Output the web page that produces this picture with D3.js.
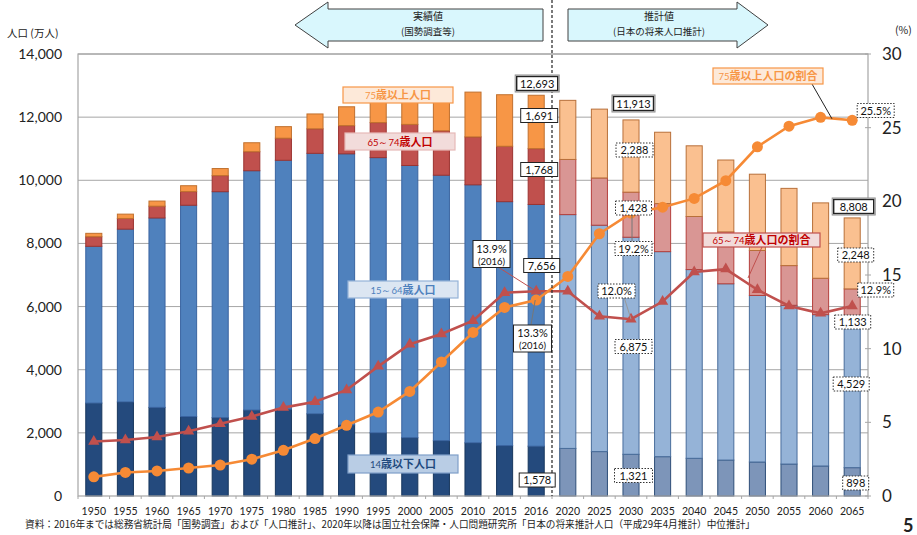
<!DOCTYPE html>
<html><head><meta charset="utf-8">
<script src="https://cdnjs.cloudflare.com/ajax/libs/d3/7.8.5/d3.min.js"></script>
<style>body{margin:0;background:#fff}svg{display:block}</style>
</head><body>
<svg id="c" width="917" height="535"></svg>
<script>
// ---- data ----
const years = ["1950","1955","1960","1965","1970","1975","1980","1985","1990","1995","2000","2005","2010","2015","2016","2020","2025","2030","2035","2040","2045","2050","2055","2060","2065"];
const totalPop  = [8320,8928,9342,9828,10372,11189,11699,12101,12328,12544,12670,12732,12793,12710,12693,12532,12254,11913,11522,11092,10642,10193,9744,9284,8808];
const age0_14   = [2943,2980,2807,2517,2482,2722,2751,2603,2249,2001,1847,1752,1684,1595,1578,1507,1407,1321,1246,1194,1138,1077,1012,951,898];
const age15_64  = [4966,5473,6000,6693,7157,7581,7883,8251,8590,8717,8622,8409,8173,7728,7656,7406,7170,6875,6494,5978,5584,5275,5028,4793,4529];
const age65_74  = [304,338,373,432,509,602,699,776,892,1109,1301,1407,1517,1755,1768,1747,1497,1428,1522,1681,1643,1424,1258,1153,1133];
const age75plus = [107,137,162,186,224,284,366,471,597,717,900,1164,1419,1632,1691,1872,2180,2288,2260,2239,2277,2417,2446,2387,2248];
const ratio65_74  = [3.7,3.8,4.0,4.4,4.9,5.4,6.0,6.4,7.2,8.8,10.3,11.0,11.9,13.8,13.9,13.9,12.2,12.0,13.2,15.2,15.4,14.0,12.9,12.4,12.9];
const ratio75plus = [1.3,1.6,1.7,1.9,2.1,2.5,3.1,3.9,4.8,5.7,7.1,9.1,11.1,12.8,13.3,14.9,17.8,19.2,19.6,20.2,21.4,23.7,25.1,25.7,25.5];
const leftTicks  = [0,2000,4000,6000,8000,10000,12000,14000];
const rightTicks = [0,5,10,15,20,25,30];
const lastActual = "2016";

// ---- layout ----
const svg = d3.select("#c");
const L = 78, R = 868, T = 54, B = 496;
const x = d3.scaleBand().domain(years).range([L, R]).paddingInner(0.46).paddingOuter(0.23);
const y = d3.scaleLinear().domain([0, 14000]).range([B, T]);
const y2 = d3.scaleLinear().domain([0, 30]).range([B, T]);
const bw = x.bandwidth();
const cx = yr => x(yr) + bw / 2;
const JP = "'Noto Sans CJK JP','Noto Sans',sans-serif";
const NUM = "Lato,'Noto Sans',sans-serif";

const actualIdx = years.indexOf(lastActual);
const colHist = ["#244A7D","#4F81BD","#C0504D","#F79646"];
const colProj = ["#7D95B9","#95B3D7","#D99694","#FAC090"];
const strokeHist = ["#17365D","#3A64A0","#9B3431","#C0702E"];
const strokeProj = ["#2E4E78","#4A6E9C","#B5403C","#B8703A"];

// gridlines
svg.append("g").selectAll("line").data(leftTicks.filter(d => d > 0)).join("line")
  .attr("x1", L).attr("x2", R).attr("y1", d => y(d)).attr("y2", d => y(d))
  .attr("stroke", "#A6A6A6").attr("stroke-width", 1);

// stacked bars
const rows = years.map((yr, i) => ({yr, i, vals: [age0_14[i], age15_64[i], age65_74[i], age75plus[i]]}));
const stackData = [];
rows.forEach(r => {
  let acc = 0;
  r.vals.forEach((v, k) => {
    stackData.push({yr: r.yr, k, y0: acc, y1: acc + v, proj: r.i > actualIdx});
    acc += v;
  });
});
svg.append("g").selectAll("rect").data(stackData).join("rect")
  .attr("x", d => x(d.yr) + 0.5).attr("width", bw - 1)
  .attr("y", d => y(d.y1)).attr("height", d => y(d.y0) - y(d.y1))
  .attr("fill", d => (d.proj ? colProj : colHist)[d.k])
  .attr("stroke", d => (d.proj ? strokeProj : strokeHist)[d.k])
  .attr("stroke-width", 1);

// plot frame
svg.append("rect").attr("x", L).attr("y", T).attr("width", R - L).attr("height", B - T)
  .attr("fill", "none").attr("stroke", "#A6A6A6").attr("stroke-width", 1.2);
const bounds = years.map(yr => x(yr) - x.step() * x.paddingInner() / 2).concat([R]);
svg.append("g").selectAll("line").data(bounds).join("line")
  .attr("x1", d => d).attr("x2", d => d).attr("y1", B).attr("y2", B + 3)
  .attr("stroke", "#A6A6A6");
svg.append("g").selectAll("line").data(rightTicks).join("line")
  .attr("x1", R - 3).attr("x2", R + 3).attr("y1", d => y2(d)).attr("y2", d => y2(d))
  .attr("stroke", "#A6A6A6");

// axes labels
svg.append("g").selectAll("text").data(leftTicks).join("text")
  .attr("x", 62).attr("y", d => y(d) + 5).attr("text-anchor", "end")
  .attr("font-family", NUM).attr("font-size", 14).attr("fill", "#222")
  .text(d => d3.format(",")(d));
svg.append("g").selectAll("text").data(rightTicks).join("text")
  .attr("x", 882).attr("y", d => y2(d) + 6).attr("text-anchor", "start")
  .attr("font-family", NUM).attr("font-size", 17).attr("fill", "#222")
  .text(d => d);
svg.append("g").selectAll("text").data(years).join("text")
  .attr("x", d => cx(d)).attr("y", 515).attr("text-anchor", "middle")
  .attr("font-family", NUM).attr("font-size", 10.5).attr("fill", "#222")
  .text(d => d);
svg.append("text").attr("x", 7).attr("y", 37).attr("font-family", JP).attr("font-size", 10.5)
  .attr("fill", "#222").text("人口 (万人)");
svg.append("text").attr("x", 895).attr("y", 34).attr("font-family", JP).attr("font-size", 10.5)
  .attr("fill", "#222").text("(%)");

// lines
const lineGen = (arr) => d3.line().x((d, i) => cx(years[i])).y(d => y2(d))(arr);
svg.append("path").attr("d", lineGen(ratio65_74)).attr("fill", "none")
  .attr("stroke", "#C0504D").attr("stroke-width", 2.6);
svg.append("g").selectAll("path").data(ratio65_74).join("path")
  .attr("d", d3.symbol(d3.symbolTriangle, 55))
  .attr("transform", (d, i) => `translate(${cx(years[i])},${y2(d)})`)
  .attr("fill", "#C0504D");
svg.append("path").attr("d", lineGen(ratio75plus)).attr("fill", "none")
  .attr("stroke", "#F68A35").attr("stroke-width", 2.6);
svg.append("g").selectAll("circle").data(ratio75plus).join("circle")
  .attr("cx", (d, i) => cx(years[i])).attr("cy", d => y2(d)).attr("r", 5.5)
  .attr("fill", "#F68A35");

// dashed divider between actual and projected
const divX = (x(lastActual) + bw + x(years[actualIdx + 1])) / 2;
svg.append("line").attr("x1", divX).attr("x2", divX).attr("y1", 0).attr("y2", B)
  .attr("stroke", "#333").attr("stroke-width", 1.3).attr("stroke-dasharray", "3,2");

// header arrows
svg.append("path").attr("d", "M295,25 L328,2 L328,9 L543,9 L543,41 L328,41 L328,48 Z")
  .attr("fill", "#D9F7FD").attr("stroke", "#404040").attr("stroke-width", 1);
svg.append("path").attr("d", "M568,9 L737,9 L737,2 L768,25 L737,48 L737,41 L568,41 Z")
  .attr("fill", "#D9F7FD").attr("stroke", "#404040").attr("stroke-width", 1);
[[428, "実績値", "(国勢調査等)"], [659, "推計値", "(日本の将来人口推計)"]].forEach(([tx, a, b]) => {
  svg.append("text").attr("x", tx).attr("y", 20).attr("text-anchor", "middle")
    .attr("font-family", JP).attr("font-size", 10).attr("fill", "#222").text(a);
  svg.append("text").attr("x", tx).attr("y", 35).attr("text-anchor", "middle")
    .attr("font-family", JP).attr("font-size", 9.5).attr("fill", "#222").text(b);
});

// connector lines
const conn = (x1, y1, x2, y2c, col) => svg.append("line").attr("x1", x1).attr("y1", y1)
  .attr("x2", x2).attr("y2", y2c).attr("stroke", col).attr("stroke-width", 1);
const i16 = actualIdx, i30 = years.indexOf("2030");
conn(498, 267, cx("2016"), y2(ratio65_74[i16]), "#C0504D");
conn(cx("2016") - 1, y2(ratio75plus[i16]), 531, 325, "#777");
conn(cx("2030") + 1, y2(ratio75plus[i30]), 632, 243, "#777");
conn(624, 297, cx("2030"), y2(ratio65_74[i30]), "#999");
conn(812, 84, 832, y2(25.6), "#222");
conn(762, 247, 748, 278, "#C0504D");

// value callouts
const fmt = d3.format(",");
const valueOf = (key, i) => ({total: fmt(totalPop[i]), a0: fmt(age0_14[i]), a15: fmt(age15_64[i]),
  a65: fmt(age65_74[i]), a75: fmt(age75plus[i]), r65: ratio65_74[i].toFixed(1) + "%", r75: ratio75plus[i].toFixed(1) + "%"})[key];
const callouts = [
  {yr:"2016", key:"total", dx:1, cy:83.5, w:41, st:"double"},
  {yr:"2016", key:"a75", dx:3, cy:115.5, w:37, st:"solid"},
  {yr:"2016", key:"a65", dx:3, cy:169.5, w:37, st:"solid"},
  {yr:"2016", key:"a15", dx:5.5, cy:265.5, w:36, st:"solid"},
  {yr:"2016", key:"a0", dx:1, cy:480, w:36, st:"solid"},
  {yr:"2030", key:"total", dx:2.5, cy:103.5, w:40, st:"double"},
  {yr:"2030", key:"a75", dx:3.5, cy:150, w:37, st:"dotted"},
  {yr:"2030", key:"a65", dx:2.5, cy:208, w:36, st:"dotted"},
  {yr:"2030", key:"r75", dx:2.5, cy:248.5, w:37, st:"dotted"},
  {yr:"2030", key:"r65", dx:-14.5, cy:291, w:37, st:"dotted"},
  {yr:"2030", key:"a15", dx:2.5, cy:346.5, w:37, st:"dotted"},
  {yr:"2030", key:"a0", dx:2.5, cy:475.5, w:38, st:"dotted"},
  {yr:"2065", key:"total", dx:1.5, cy:206.5, w:40, st:"double"},
  {yr:"2065", key:"a75", dx:3.5, cy:255, w:36, st:"dotted"},
  {yr:"2065", key:"r65", dx:23.5, cy:290, w:36, st:"dotted"},
  {yr:"2065", key:"a65", dx:0.5, cy:322, w:36, st:"dotted"},
  {yr:"2065", key:"a15", dx:-1, cy:384, w:36, st:"dotted"},
  {yr:"2065", key:"a0", dx:3.5, cy:483, w:26, st:"dotted"},
  {yr:"2065", key:"r75", dx:23.5, cy:110.5, w:37, st:"dotted"}
];
const cg = svg.append("g");
callouts.forEach(c => {
  const i = years.indexOf(c.yr);
  const mx = cx(c.yr) + c.dx, h = 14;
  if (c.st === "double") {
    cg.append("rect").attr("x", mx - c.w / 2 - 1.5).attr("y", c.cy - h / 2 - 1.5).attr("width", c.w + 3).attr("height", h + 3)
      .attr("fill", "#fff").attr("stroke", "#8C8C8C").attr("stroke-width", 1);
  }
  const r = cg.append("rect").attr("x", mx - c.w / 2).attr("y", c.cy - h / 2).attr("width", c.w).attr("height", h)
    .attr("fill", "#fff").attr("stroke", "#222").attr("stroke-width", c.st === "double" ? 1.4 : 1);
  if (c.st === "dotted") r.attr("stroke-dasharray", "1.5,1.5").attr("stroke", "#333");
  cg.append("text").attr("x", mx).attr("y", c.cy + 4).attr("text-anchor", "middle")
    .attr("font-family", NUM).attr("font-size", 11).attr("fill", "#111").text(valueOf(c.key, i));
});
[[491.5, 254, ratio65_74[i16], 37], [532.5, 338.5, ratio75plus[i16], 38]].forEach(([mx, my, v, w]) => {
  cg.append("rect").attr("x", mx - w / 2).attr("y", my - 13.5).attr("width", w).attr("height", 27)
    .attr("fill", "#fff").attr("stroke", "#222").attr("stroke-width", 1);
  cg.append("text").attr("x", mx).attr("y", my - 1.5).attr("text-anchor", "middle")
    .attr("font-family", NUM).attr("font-size", 11).attr("fill", "#111").text(v.toFixed(1) + "%");
  cg.append("text").attr("x", mx).attr("y", my + 10.5).attr("text-anchor", "middle")
    .attr("font-family", NUM).attr("font-size", 9.5).attr("fill", "#111").text("(" + lastActual + ")");
});

// series name boxes
const nameBoxes = [
  {x:343, y:87, w:110, h:16, fill:"#FDE9D9", stroke:"#F79646", col:"#F79646", pre:"75", main:"歳以上人口"},
  {x:345, y:133, w:110, h:17, fill:"#F2DCDB", stroke:"#E6B9B8", col:"#C00000", pre:"65～74", main:"歳人口"},
  {x:348, y:281, w:110, h:17, fill:"#DCE6F2", stroke:"#95B3D7", col:"#4F81BD", pre:"15～64", main:"歳人口"},
  {x:348, y:455, w:110, h:18, fill:"#B9CDE5", stroke:"#7F9FC8", col:"#1F497D", pre:"14", main:"歳以下人口"},
  {x:713, y:68, w:110, h:16, fill:"#FDE9D9", stroke:"#F79646", col:"#F79646", pre:"75", main:"歳以上人口の割合"},
  {x:703, y:233, w:117, h:14, fill:"#F2DCDB", stroke:"#C0504D", col:"#C00000", pre:"65～74", main:"歳人口の割合"}
];
nameBoxes.forEach(b => {
  cg.append("rect").attr("x", b.x).attr("y", b.y).attr("width", b.w).attr("height", b.h)
    .attr("fill", b.fill).attr("stroke", b.stroke).attr("stroke-width", 1.2);
  const t = cg.append("text").attr("x", b.x + b.w / 2).attr("y", b.y + b.h / 2 + 4)
    .attr("text-anchor", "middle").attr("font-family", JP).attr("fill", b.col);
  t.append("tspan").attr("font-size", 9.5).attr("font-family", NUM).text(b.pre);
  t.append("tspan").attr("font-size", 11).attr("font-weight", 700).text(b.main);
});

// source note & page number
svg.append("text").attr("x", 25).attr("y", 528).attr("font-family", JP).attr("font-size", 10)
  .attr("fill", "#222").attr("textLength", 730).attr("lengthAdjust", "spacingAndGlyphs")
  .text("資料：2016年までは総務省統計局「国勢調査」および「人口推計」、2020年以降は国立社会保障・人口問題研究所「日本の将来推計人口（平成29年4月推計）中位推計」");
svg.append("text").attr("x", 903).attr("y", 532).attr("font-family", NUM).attr("font-size", 18)
  .attr("font-weight", 700).attr("fill", "#222").text("5");
</script>
</body></html>
